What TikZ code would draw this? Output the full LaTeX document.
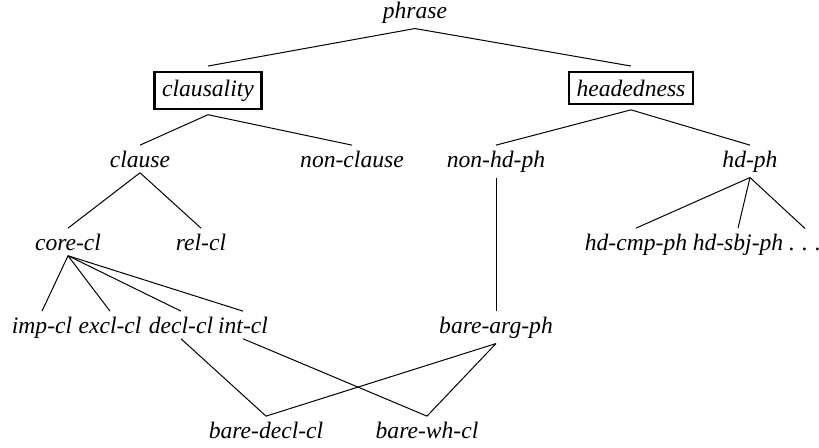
\documentclass[tikz,border=0pt]{standalone}
\usepackage{fontspec}
\setmainfont{Liberation Serif}[ItalicFont={Liberation Serif Italic}]
\tikzset{
    %Define style for type labels
    typ/.style={
           anchor=base,
           inner sep=2.5pt,
           font=\fontsize{11.8}{14}\selectfont\itshape},
    %Define style for boxed dimensions
    dimbox/.style={
           typ,
           draw=black, line width=1.2pt,
           inner sep=3.8pt,
           outer sep=3pt},
    %Define line style
    link/.style={
           draw=black,
           line width=0.5pt}
}

\begin{document}
\begin{tikzpicture}[x=0.5pt,y=-0.5pt,line width=0.5pt]
\useasboundingbox (0,0) rectangle (819,447);
 %nodes
\node[typ](phrase) at (415,18){phrase};
\node[dimbox](clausality) at (208,96){clausality};
\node[dimbox](headedness) at (631,96){headedness};
\node[typ](clause) at (140,167){clause};
\node[typ](nonclause) at (352,167){non-clause};
\node[typ](nonhdph) at (496,167){non-hd-ph};
\node[typ](hdph) at (750,167){hd-ph};
\node[typ](corecl) at (68,250){core-cl};
\node[typ](relcl) at (201,250){rel-cl};
\node[typ](hdcmpph) at (636,250){hd-cmp-ph};
\node[typ](hdsbjph) at (738,250){hd-sbj-ph};
\node[typ, text height=8pt](dots) at (805,250){.\kern.3em.\kern.3em.};
\node[typ](impcl) at (42,333){imp-cl};
\node[typ](exclcl) at (110,333){excl-cl};
\node[typ](declcl) at (181,333){decl-cl};
\node[typ](intcl) at (243,333){int-cl};
\node[typ](bareargph) at (496,333){bare-arg-ph};
\node[typ](baredeclcl) at (266,438){bare-decl-cl};
\node[typ](barewhcl) at (427,438){bare-wh-cl};
 %links
\path[link]
    (phrase.south) edge (clausality.north)
    (phrase.south) edge (headedness.north)
    (clausality.south) edge (clause.north)
    (clausality.south) edge (nonclause.north)
    (headedness.south) edge (nonhdph.north)
    (headedness.south) edge (hdph.north)
    (clause.south) edge (corecl.north)
    (clause.south) edge (relcl.north)
    (hdph.south) edge (hdcmpph.north)
    (hdph.south) edge (hdsbjph.north)
    (hdph.south) edge (dots.north)
    (corecl.south) edge (impcl.north)
    (corecl.south) edge (exclcl.north)
    (corecl.south) edge (declcl.north)
    (corecl.south) edge (intcl.north)
    (nonhdph.south) edge (bareargph.north)
    (declcl.south) edge (baredeclcl.north)
    (intcl.south) edge (barewhcl.north)
    (bareargph.south) edge (baredeclcl.north)
    (bareargph.south) edge (barewhcl.north);
\end{tikzpicture}
\end{document}
